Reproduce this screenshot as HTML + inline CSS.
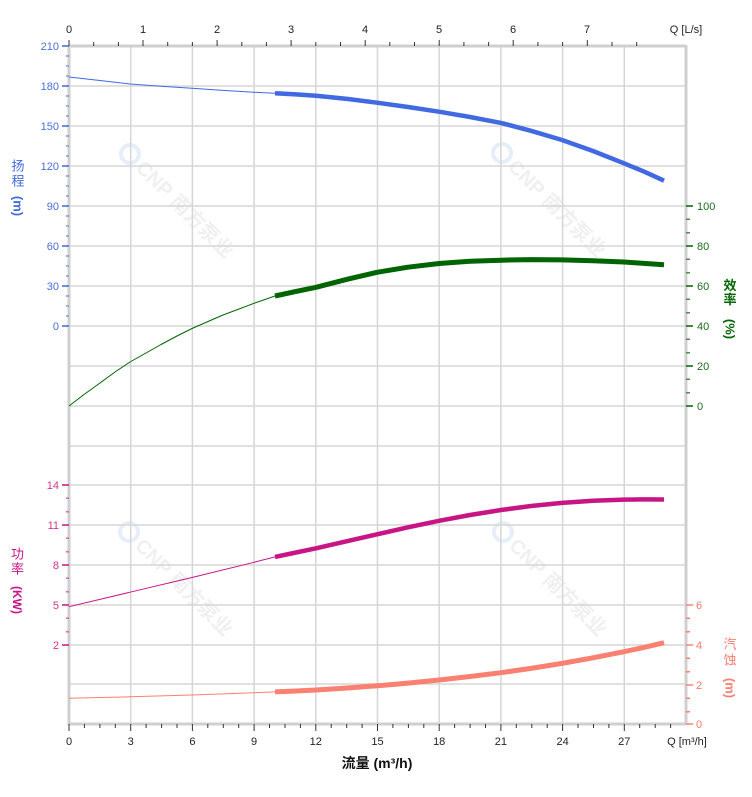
<!DOCTYPE html>
<html><head><meta charset="utf-8"><style>
html,body{margin:0;padding:0;background:#fff;}
svg{display:block;}
text{font-family:"Liberation Sans","Noto Sans CJK SC",sans-serif;}
</style></head><body>
<svg width="752" height="797" viewBox="0 0 752 797" xmlns="http://www.w3.org/2000/svg">
<!-- watermarks -->
<g fill="#f0f0f0" font-weight="bold" font-size="20">
 <g transform="translate(130,154) rotate(45)"><circle cx="0" cy="0" r="9" fill="none" stroke="#e6eef8" stroke-width="4"/><text x="14" y="7">CNP</text><text x="62" y="7" font-family="Noto Sans CJK SC,sans-serif">南方泵业</text></g>
 <g transform="translate(502,153) rotate(45)"><circle cx="0" cy="0" r="9" fill="none" stroke="#e6eef8" stroke-width="4"/><text x="14" y="7">CNP</text><text x="62" y="7" font-family="Noto Sans CJK SC,sans-serif">南方泵业</text></g>
 <g transform="translate(129,532) rotate(45)"><circle cx="0" cy="0" r="9" fill="none" stroke="#e6eef8" stroke-width="4"/><text x="14" y="7">CNP</text><text x="62" y="7" font-family="Noto Sans CJK SC,sans-serif">南方泵业</text></g>
 <g transform="translate(503,532) rotate(45)"><circle cx="0" cy="0" r="9" fill="none" stroke="#e6eef8" stroke-width="4"/><text x="14" y="7">CNP</text><text x="62" y="7" font-family="Noto Sans CJK SC,sans-serif">南方泵业</text></g>
</g>
<!-- grid -->
<g stroke="#d6d6d6" stroke-width="1.5">
 <path d="M130.7 46V724M192.4 46V724M254.1 46V724M315.8 46V724M377.5 46V724M439.2 46V724M500.9 46V724M562.6 46V724M624.3 46V724"/>
 <path d="M69 86H686M69 126H686M69 166H686M69 206H686M69 246H686M69 286H686M69 326H686M69 366H686M69 406H686M69 446H686M69 485H686M69 525H686M69 565H686M69 605H686M69 645H686M69 684H686"/>
</g>
<!-- axes frame -->
<g stroke="#cfcfcf" stroke-width="3" fill="none">
 <path d="M69 46H686M69 724H686M69 45V725M686 45V725"/>
</g>
<!-- top ticks -->
<g stroke="#333" stroke-width="1">
 <path d="M69 40V46M143 40V46M217.1 40V46M291.1 40V46M365.2 40V46M439.2 40V46M513.2 40V46M587.3 40V46"/>
 <path d="M93.7 42V46M118.4 42V46M167.7 42V46M192.4 42V46M241.8 42V46M266.4 42V46M315.8 42V46M340.5 42V46M389.8 42V46M414.5 42V46M463.9 42V46M488.6 42V46M537.9 42V46M562.6 42V46M612 42V46M636.7 42V46"/>
</g>
<g font-size="11" fill="#222" text-anchor="middle">
 <text x="69" y="33">0</text><text x="143" y="33">1</text><text x="217" y="33">2</text><text x="291" y="33">3</text><text x="365" y="33">4</text><text x="439" y="33">5</text><text x="513" y="33">6</text><text x="587" y="33">7</text>
 <text x="686" y="33">Q [L/s]</text>
</g>
<!-- bottom ticks -->
<g stroke="#333" stroke-width="1">
 <path d="M69 724V731M130.7 724V731M192.4 724V731M254.1 724V731M315.8 724V731M377.5 724V731M439.2 724V731M500.9 724V731M562.6 724V731M624.3 724V731"/>
 <path d="M84.4 724V728M99.9 724V728M115.3 724V728M146.1 724V728M161.6 724V728M177 724V728M207.8 724V728M223.3 724V728M238.7 724V728M269.5 724V728M285 724V728M300.4 724V728M331.2 724V728M346.7 724V728M362.1 724V728M392.9 724V728M408.4 724V728M423.8 724V728M454.6 724V728M470.1 724V728M485.5 724V728M516.3 724V728M531.8 724V728M547.2 724V728M578 724V728M593.5 724V728M608.9 724V728M639.7 724V728M655.2 724V728M670.6 724V728"/>
</g>
<g font-size="11" fill="#222" text-anchor="middle">
 <text x="69" y="745">0</text><text x="130.7" y="745">3</text><text x="192.4" y="745">6</text><text x="254.1" y="745">9</text><text x="315.8" y="745">12</text><text x="377.5" y="745">15</text><text x="439.2" y="745">18</text><text x="500.9" y="745">21</text><text x="562.6" y="745">24</text><text x="624.3" y="745">27</text>
 <text x="687" y="745">Q [m³/h]</text>
</g>
<text x="377" y="768" font-size="14" font-weight="bold" fill="#111" text-anchor="middle">流量 (m³/h)</text>
<!-- head axis ticks -->
<g stroke="#4169E1" stroke-width="1.5">
 <path d="M62 46H69M62 86H69M62 126H69M62 166H69M62 206H69M62 246H69M62 286H69M62 326H69"/>
 <path d="M66 56H69M66 66H69M66 76H69M66 96H69M66 106H69M66 116H69M66 136H69M66 146H69M66 156H69M66 176H69M66 186H69M66 196H69M66 216H69M66 226H69M66 236H69M66 256H69M66 266H69M66 276H69M66 296H69M66 306H69M66 316H69" stroke="#7e98e8"/>
</g>
<g font-size="11" fill="#4a6fe0" text-anchor="end">
 <text x="59" y="50">210</text><text x="59" y="90">180</text><text x="59" y="130">150</text><text x="59" y="170">120</text><text x="59" y="210">90</text><text x="59" y="250">60</text><text x="59" y="290">30</text><text x="59" y="330">0</text>
</g>
<g fill="#4169E1" font-size="13" text-anchor="middle">
 <text x="18" y="170.5" font-family="Noto Sans CJK SC,sans-serif">扬</text>
 <text x="18" y="185.5" font-family="Noto Sans CJK SC,sans-serif">程</text>
 <text transform="translate(18,206) rotate(90)" y="4.5" font-weight="bold">(m)</text>
</g>
<!-- power axis ticks -->
<g stroke="#C71585" stroke-width="1.5">
 <path d="M62 485H69M62 525H69M62 565H69M62 605H69M62 645H69"/>
 <path d="M66 498.3H69M66 511.7H69M66 538.3H69M66 551.7H69M66 578.3H69M66 591.7H69M66 618.3H69M66 631.7H69" stroke="#d86aa8"/>
</g>
<g font-size="11" fill="#d0368f" text-anchor="end">
 <text x="59" y="489">14</text><text x="59" y="529">11</text><text x="59" y="569">8</text><text x="59" y="609">5</text><text x="59" y="649">2</text>
</g>
<g fill="#C71585" font-size="13" text-anchor="middle">
 <text x="17.5" y="558.5" font-family="Noto Sans CJK SC,sans-serif">功</text>
 <text x="17.5" y="573.5" font-family="Noto Sans CJK SC,sans-serif">率</text>
 <text transform="translate(17.5,600) rotate(90)" y="4.5" font-weight="bold" font-size="12">(KW)</text>
</g>
<!-- efficiency axis ticks -->
<g stroke="#006400" stroke-width="1.5">
 <path d="M686 206H693M686 246H693M686 286H693M686 326H693M686 366H693M686 406H693"/>
 <path d="M686 219.3H690M686 232.7H690M686 259.3H690M686 272.7H690M686 299.3H690M686 312.7H690M686 339.3H690M686 352.7H690M686 379.3H690M686 392.7H690" stroke="#4a934a"/>
</g>
<g font-size="11" fill="#1f6e1f">
 <text x="697" y="210">100</text><text x="697" y="250">80</text><text x="697" y="290">60</text><text x="697" y="330">40</text><text x="697" y="370">20</text><text x="697" y="410">0</text>
</g>
<g fill="#006400" font-size="13" text-anchor="middle">
 <text x="730" y="290" font-family="Noto Sans CJK SC,sans-serif" font-weight="bold">效</text>
 <text x="730" y="304" font-family="Noto Sans CJK SC,sans-serif" font-weight="bold">率</text>
 <text transform="translate(730,329) rotate(90)" y="4.5" font-weight="bold">(%)</text>
</g>
<!-- npsh axis ticks -->
<g stroke="#FA8072" stroke-width="1.5">
 <path d="M686 605H693M686 645H693M686 685H693M686 724H693"/>
 <path d="M686 618.3H690M686 631.7H690M686 658.3H690M686 671.7H690M686 698.3H690M686 711.7H690"/>
</g>
<g font-size="11" fill="#f47a6a">
 <text x="696" y="609">6</text><text x="696" y="649">4</text><text x="696" y="689">2</text><text x="696" y="728">0</text>
</g>
<g fill="#FA8072" font-size="13" text-anchor="middle">
 <text x="730" y="648.5" font-family="Noto Sans CJK SC,sans-serif">汽</text>
 <text x="730" y="664.5" font-family="Noto Sans CJK SC,sans-serif">蚀</text>
 <text transform="translate(730,688) rotate(90)" y="4.5" font-weight="bold">(m)</text>
</g>
<!-- curves -->
<g fill="none" stroke-linejoin="round" stroke-linecap="butt">
 <polyline stroke="#4169E1" stroke-width="1" points="69,77 100,80.5 130,84 161,86.2 192,88.3 223,90.4 254,92.3 275,93.3"/>
 <polyline stroke="#4169E1" stroke-width="4.5" points="275,93.3 296,94.4 316,95.7 347,98.9 377,102.7 408,107 439,111.7 470,117 501,122.9 531,130.8 562,140 593,151 624,163.3 644,171.6 664,180.7"/>
 <polyline stroke="#006400" stroke-width="1" points="69,406 84,394.5 100,383 115,372 130,362 146,353 161,344.5 177,336 192,328.5 208,321.5 223,315 239,309 254,303.3 275,296"/>
 <polyline stroke="#006400" stroke-width="5" points="275,296 296,291.4 316,287.3 347,279.3 377,272.3 408,267.2 439,263.5 470,261.3 501,260.2 531,259.6 562,259.9 593,260.7 624,262 644,263.4 664,264.8"/>
 <polyline stroke="#C71585" stroke-width="1" points="69,606.7 130,592.2 192,577.5 254,562.3 275,556.9"/>
 <polyline stroke="#C71585" stroke-width="4.5" points="275,556.9 296,552.5 316,548.3 347,541.2 377,534.3 408,527.3 439,520.8 470,515 501,510 531,506 562,502.9 593,500.7 624,499.6 644,499.4 664,499.5"/>
 <polyline stroke="#FA8072" stroke-width="1" points="69,698.3 130,696.8 192,695 254,692.8 275,691.9"/>
 <polyline stroke="#FA8072" stroke-width="5" points="275,691.9 296,691 316,690 347,688 377,685.8 408,683.1 439,680 470,676.5 501,672.7 531,668.4 562,663.4 593,657.8 624,651.7 644,647.4 664,642.7"/>
</g>
</svg>
</body></html>
